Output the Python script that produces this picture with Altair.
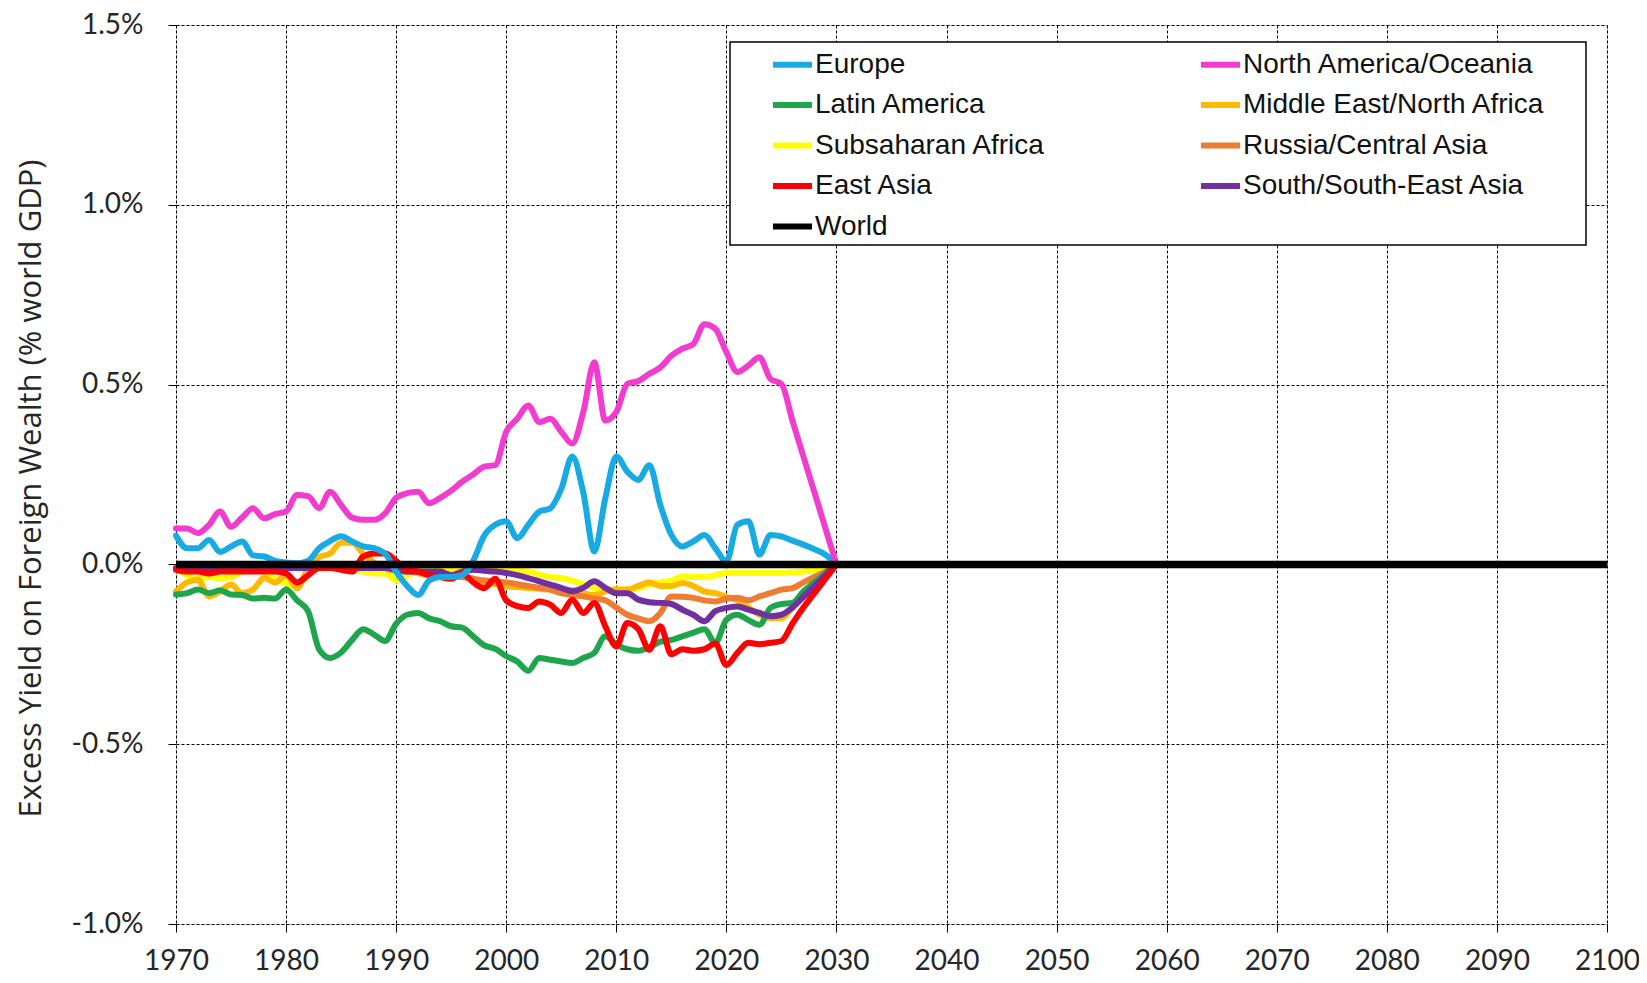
import altair as alt
import pandas as pd

years = list(range(1970, 2031))

europe = [0.08, 0.045, 0.045, 0.068, 0.035, 0.05, 0.064, 0.025, 0.022, 0.01,
          0.005, 0.003, 0.01, 0.045, 0.065, 0.078, 0.064, 0.05, 0.045, 0.03,
          -0.02, -0.06, -0.085, -0.045, -0.035, -0.035, -0.03, 0.01, 0.08, 0.11,
          0.12, 0.073, 0.11, 0.147, 0.156, 0.21, 0.30, 0.20, 0.036, 0.184,
          0.30, 0.258, 0.235, 0.276, 0.165, 0.082, 0.05, 0.064, 0.082, 0.045,
          0.008, 0.11, 0.12, 0.027, 0.082, 0.078, 0.066, 0.055, 0.042, 0.027,
          0.0]
north_america = [0.10, 0.10, 0.087, 0.11, 0.147, 0.105, 0.13, 0.156, 0.128, 0.14,
                 0.147, 0.193, 0.19, 0.156, 0.202, 0.165, 0.13, 0.124, 0.124, 0.142,
                 0.185, 0.198, 0.202, 0.17, 0.185, 0.205, 0.23, 0.25, 0.272, 0.276,
                 0.369, 0.405, 0.442, 0.396, 0.405, 0.369, 0.336, 0.424, 0.562, 0.40,
                 0.424, 0.502, 0.51, 0.53, 0.548, 0.58, 0.60, 0.613, 0.668, 0.655,
                 0.59, 0.535, 0.553, 0.576, 0.516, 0.502, 0.40, 0.30, 0.20, 0.10,
                 0.0]
latin_america = [-0.084, -0.08, -0.07, -0.08, -0.072, -0.084, -0.085, -0.095, -0.093, -0.095,
                 -0.07, -0.10, -0.13, -0.236, -0.26, -0.245, -0.21, -0.18, -0.195, -0.213,
                 -0.165, -0.14, -0.135, -0.15, -0.158, -0.172, -0.176, -0.20, -0.225, -0.235,
                 -0.255, -0.27, -0.296, -0.26, -0.265, -0.27, -0.274, -0.26, -0.246, -0.20,
                 -0.222, -0.236, -0.24, -0.23, -0.215, -0.21, -0.20, -0.19, -0.18, -0.218,
                 -0.154, -0.14, -0.155, -0.168, -0.121, -0.11, -0.107, -0.075, -0.05, -0.025,
                 0.0]
middle_east = [-0.075, -0.05, -0.043, -0.089, -0.075, -0.056, -0.08, -0.07, -0.038, -0.05,
               -0.03, -0.066, -0.01, 0.02, 0.03, 0.06, 0.06, 0.03, 0.005, -0.01,
               -0.02, -0.02, -0.025, -0.03, -0.03, -0.035, -0.035, -0.04, -0.05, -0.055,
               -0.061, -0.063, -0.066, -0.068, -0.07, -0.07, -0.072, -0.08, -0.085, -0.075,
               -0.07, -0.07, -0.06, -0.05, -0.06, -0.06, -0.052, -0.06, -0.075, -0.08,
               -0.09, -0.10, -0.12, -0.14, -0.15, -0.15, -0.12, -0.09, -0.06, -0.03,
               0.0]
subsaharan = [-0.01, -0.03, -0.04, -0.035, -0.038, -0.035, -0.02, -0.015, -0.02, -0.04,
              -0.052, -0.06, -0.03, -0.01, -0.01, -0.01, -0.015, -0.02, -0.025, -0.025,
              -0.044, -0.03, -0.02, -0.015, -0.015, -0.015, -0.015, -0.015, -0.015, -0.015,
              -0.015, -0.018, -0.02, -0.028, -0.035, -0.038, -0.045, -0.055, -0.065, -0.07,
              -0.07, -0.07, -0.065, -0.056, -0.05, -0.045, -0.033, -0.035, -0.035, -0.03,
              -0.024, -0.024, -0.024, -0.024, -0.024, -0.024, -0.022, -0.02, -0.015, -0.008,
              0.0]
russia = [-0.01, -0.01, -0.01, -0.01, -0.01, -0.01, -0.01, -0.01, -0.01, -0.01,
          -0.01, -0.01, -0.01, -0.01, -0.01, -0.01, -0.01, -0.01, -0.01, -0.01,
          -0.015, -0.02, -0.02, -0.025, -0.025, -0.03, -0.035, -0.04, -0.045, -0.048,
          -0.05, -0.055, -0.06, -0.065, -0.07, -0.08, -0.085, -0.089, -0.095, -0.10,
          -0.12, -0.14, -0.15, -0.158, -0.135, -0.089, -0.09, -0.093, -0.10, -0.103,
          -0.095, -0.093, -0.10, -0.089, -0.08, -0.07, -0.066, -0.05, -0.035, -0.02,
          0.0]
east_asia = [-0.015, -0.02, -0.02, -0.025, -0.02, -0.02, -0.02, -0.02, -0.02, -0.02,
             -0.025, -0.05, -0.03, -0.01, -0.01, -0.015, -0.02, 0.022, 0.03, 0.03,
             0.01, -0.015, -0.02, -0.03, -0.035, -0.04, -0.025, -0.05, -0.066, -0.04,
             -0.10, -0.116, -0.121, -0.103, -0.112, -0.135, -0.098, -0.135, -0.107, -0.172,
             -0.228, -0.163, -0.18, -0.237, -0.172, -0.25, -0.236, -0.24, -0.236, -0.22,
             -0.28, -0.246, -0.218, -0.222, -0.218, -0.213, -0.165, -0.12, -0.08, -0.04,
             0.0]
south_asia = [-0.01, -0.01, -0.01, -0.01, -0.01, -0.01, -0.01, -0.01, -0.01, -0.01,
              -0.01, -0.01, -0.01, -0.01, -0.01, -0.01, -0.01, -0.01, -0.01, -0.01,
              -0.015, -0.02, -0.02, -0.02, -0.02, -0.03, -0.02, -0.015, -0.018, -0.02,
              -0.024, -0.03, -0.038, -0.047, -0.056, -0.065, -0.075, -0.065, -0.047, -0.065,
              -0.08, -0.08, -0.098, -0.105, -0.107, -0.11, -0.126, -0.14, -0.158, -0.13,
              -0.121, -0.117, -0.126, -0.135, -0.144, -0.14, -0.12, -0.09, -0.06, -0.03,
              0.0]
world_years = [1970, 2030, 2100]
world = [0.0, 0.0, 0.0]

# legend order (legend fills column by column: left column first)
names = ["Europe", "Latin America", "Subsaharan Africa", "East Asia", "World",
         "North America/Oceania", "Middle East/North Africa", "Russia/Central Asia",
         "South/South-East Asia"]
colors = ["#18AAE2", "#1FA64C", "#FFFF00", "#FF0000", "#000000",
          "#F23CCF", "#FFBA00", "#EE7D33", "#7030A0"]

# drawing order (later = on top)
draw = [("Subsaharan Africa", subsaharan), ("Middle East/North Africa", middle_east),
        ("Russia/Central Asia", russia), ("Latin America", latin_america),
        ("South/South-East Asia", south_asia), ("East Asia", east_asia),
        ("Europe", europe), ("North America/Oceania", north_america)]

rows = []
for order, (name, vals) in enumerate(draw):
    for y, v in zip(years, vals):
        rows.append({"year": y, "value": v, "region": name, "ord": order})
df = pd.DataFrame(rows)
wdf = pd.DataFrame({"year": world_years, "value": world, "region": "World", "ord": 9})

color = alt.Color("region:N", scale=alt.Scale(domain=names, range=colors),
                  legend=alt.Legend(orient="none", legendX=594, legendY=17, columns=2,
                                    symbolType="stroke", symbolSize=1521, symbolStrokeWidth=6,
                                    labelFontSize=28, labelFont="Liberation Sans", labelColor="#111",
                                    labelLimit=0, rowPadding=3.5, columnPadding=143, labelOffset=0,
                                    title=None, padding=0))

xenc = alt.X("year:Q", scale=alt.Scale(domain=[1970, 2100], nice=False),
             axis=alt.Axis(values=list(range(1970, 2101, 10)), format="d", title=None,
                           labelFontSize=28, labelFont="Lato", labelColor="#262626",
                           labelPadding=15, tickSize=8, tickColor="black",
                           grid=True, gridDash=[3, 2], gridColor="black", gridWidth=1,
                           domain=False, labelFlush=False))
yenc = alt.Y("value:Q", scale=alt.Scale(domain=[-1.0, 1.5], nice=False),
             axis=alt.Axis(values=[-1.0, -0.5, 0.0, 0.5, 1.0, 1.5],
                           labelExpr="(datum.value < 0 ? '-' : '') + format(abs(datum.value), '.1f') + '%'",
                           title="Excess Yield on Foreign Wealth (% world GDP)",
                           titleFontSize=31, titleFont="Open Sans", titleFontWeight="normal",
                           titleColor="#262626", titleX=-145, titleY=463, titleBaseline="middle",
                           titleAngle=270,
                           labelFontSize=28, labelFont="Lato", labelColor="#262626",
                           labelPadding=25, tickSize=8, tickColor="black",
                           grid=True, gridDash=[3, 2], gridColor="black", gridWidth=1,
                           domain=False, labelFlush=False))

lines = alt.Chart(df).mark_line(strokeWidth=6, interpolate="monotone",
                                strokeJoin="round", strokeCap="round").encode(
    x=xenc, y=yenc, color=color, detail="ord:O", order="year:Q")
world_line = alt.Chart(wdf).mark_line(strokeWidth=7.5).encode(
    x="year:Q", y="value:Q", color=alt.Color("region:N"))

box = alt.Chart(alt.Data(values=[{"k": 1}])).mark_rect(
    fill="white", stroke="black", strokeWidth=1.5).encode(
    x=alt.value(554), x2=alt.value(1410), y=alt.value(17), y2=alt.value(220))

chart = alt.layer(lines, world_line, box).properties(
    width=1431, height=899,
    autosize=alt.AutoSizeParams(type="none"),
    padding={"left": 168, "top": 17, "right": 32, "bottom": 51},
).configure_view(stroke="black", strokeWidth=3).configure(background="white")

chart.save("out.html", embed_options={"renderer": "svg", "actions": False})
